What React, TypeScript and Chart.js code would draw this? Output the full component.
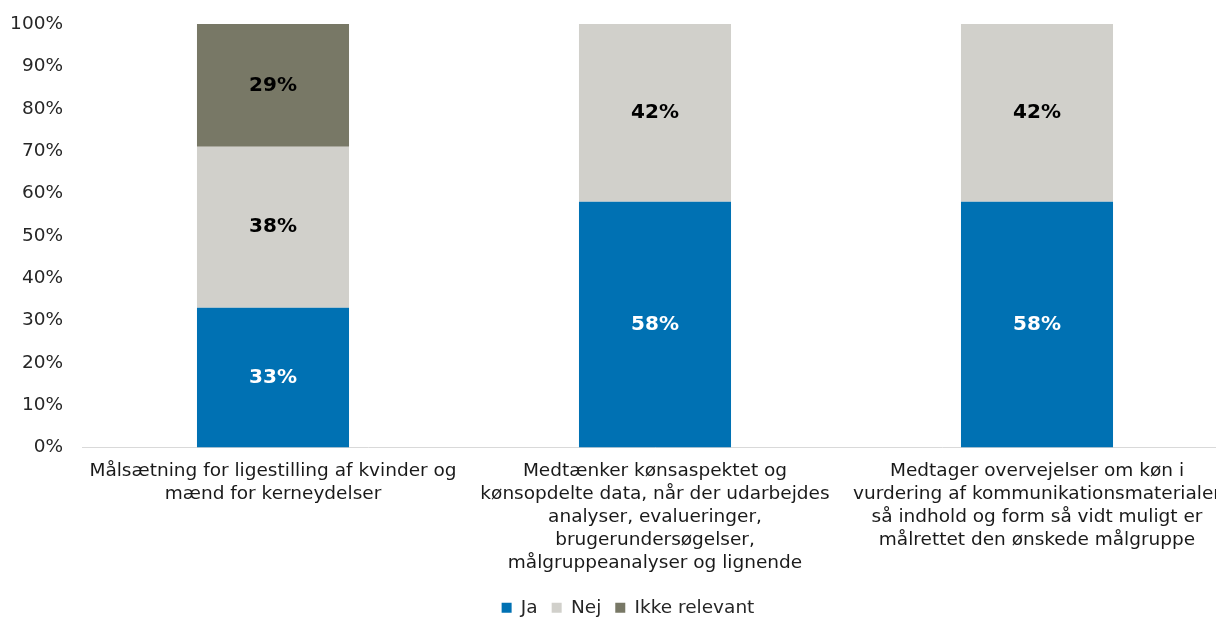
import React, { useEffect, useRef } from "react";
import { Chart, registerables } from "chart.js";

Chart.register(...registerables);

const categories: string[][] = [
  ["Målsætning for ligestilling af kvinder og", "mænd for kerneydelser"],
  [
    "Medtænker kønsaspektet og",
    "kønsopdelte data, når der udarbejdes",
    "analyser, evalueringer,",
    "brugerundersøgelser,",
    "målgruppeanalyser og lignende",
  ],
  [
    "Medtager overvejelser om køn i",
    "vurdering af kommunikationsmaterialer",
    "så indhold og form så vidt muligt er",
    "målrettet den ønskede målgruppe",
  ],
];

const jaValues = [33, 58, 58];
const nejValues = [38, 42, 42];
const ikkeRelevantValues = [29, 0, 0];

const seriesNames = ["Ja", "Nej", "Ikke relevant"];
const seriesColors = ["#0071B3", "#D1D0CB", "#787866"];
const labelColors = ["#FFFFFF", "#000000", "#000000"];

const FONT = "'DejaVu Sans', Verdana, sans-serif";

const valueLabelPlugin = {
  id: "valueLabels",
  afterDatasetsDraw(chart: any) {
    const ctx = chart.ctx;
    ctx.save();
    ctx.font = `bold 20px ${FONT}`;
    ctx.textAlign = "center";
    ctx.textBaseline = "middle";
    chart.data.datasets.forEach((ds: any, di: number) => {
      const meta = chart.getDatasetMeta(di);
      meta.data.forEach((el: any, i: number) => {
        const v = ds.data[i];
        if (!v) return;
        const p = el.getProps(["x", "y", "base"], true);
        ctx.fillStyle = labelColors[di];
        ctx.fillText(`${v}%`, p.x, (p.y + p.base) / 2);
      });
    });
    ctx.restore();
  },
};

const legendShiftPlugin = {
  id: "legendShift",
  afterLayout(chart: any) {
    const lg = chart.legend;
    if (lg) {
      lg.left += 10;
      lg.right += 10;
    }
  },
};

export default function App() {
  const canvasRef = useRef<HTMLCanvasElement | null>(null);

  useEffect(() => {
    if (!canvasRef.current) return;
    const chart = new Chart(canvasRef.current, {
      type: "bar",
      data: {
        labels: categories,
        datasets: [jaValues, nejValues, ikkeRelevantValues].map((d, i) => ({
          label: seriesNames[i],
          data: d,
          backgroundColor: seriesColors[i],
          borderWidth: 0,
          barPercentage: 0.398,
          categoryPercentage: 1,
        })),
      },
      options: {
        responsive: false,
        animation: false,
        layout: { padding: { left: 8, right: 12, top: 24, bottom: 13 } },
        plugins: {
          tooltip: { enabled: false },
          legend: {
            position: "bottom",
            labels: {
              font: { family: FONT, size: 18.5 },
              color: "#262626",
              boxWidth: 10,
              boxHeight: 10,
              padding: 14,
            },
          },
        },
        scales: {
          x: {
            stacked: true,
            grid: { display: false, drawTicks: false },
            border: { display: true, color: "#D9D9D9", width: 1 },
            ticks: {
              font: { family: FONT, size: 18.5, lineHeight: 23 / 18.5 },
              color: "#1A1A1A",
              padding: 12,
              maxRotation: 0,
              minRotation: 0,
              autoSkip: false,
            },
            afterFit(scale: any) {
              scale.height = 137;
            },
          },
          y: {
            stacked: true,
            min: 0,
            max: 100,
            grid: { display: false, drawTicks: true, tickLength: 19 },
            border: { display: false },
            ticks: {
              stepSize: 10,
              font: { family: FONT, size: 18.5 },
              color: "#262626",
              padding: 0,
              callback: (v: any) => `${v}%`,
            },
            afterFit(scale: any) {
              scale.width = 74;
            },
          },
        },
      },
      plugins: [valueLabelPlugin, legendShiftPlugin],
    });
    return () => chart.destroy();
  }, []);

  return (
    <div
      style={{
        position: "fixed",
        left: 0,
        top: 0,
        width: 1216,
        height: 619,
        overflow: "hidden",
        background: "#FFFFFF",
      }}
    >
      <canvas
        ref={canvasRef}
        width={1240}
        height={640}
        style={{ width: 1240, height: 640, display: "block" }}
      />
    </div>
  );
}
